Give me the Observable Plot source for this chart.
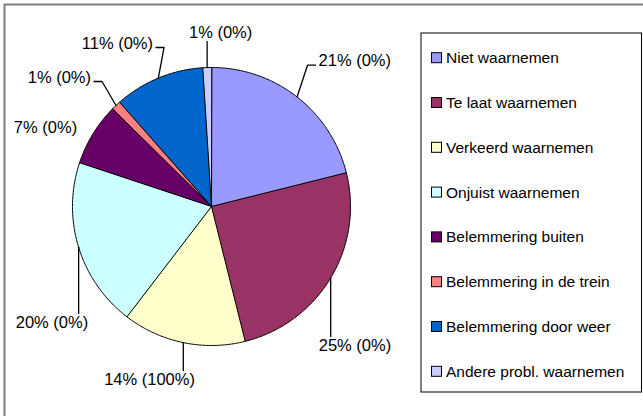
<!DOCTYPE html>
<html><head><meta charset="utf-8">
<script src="https://cdn.jsdelivr.net/npm/d3@7"></script>
<script src="https://cdn.jsdelivr.net/npm/@observablehq/plot@0.6"></script>
<style>body{margin:0;background:#fff}svg{display:block}</style>
</head><body><div id="chart"></div>
<script>
// ---- data ----
const categories = ["Niet waarnemen","Te laat waarnemen","Verkeerd waarnemen","Onjuist waarnemen","Belemmering buiten","Belemmering in de trein","Belemmering door weer","Andere probl. waarnemen"];
const shares = [21.1, 25.0, 14.3, 19.7, 7.3, 1.1, 10.5, 1.0];
const secondShares = [0, 0, 100, 0, 0, 0, 0, 0];
const colors = ["#9999FF","#993366","#FFFFCC","#CCFFFF","#660066","#FF8080","#0066CC","#CCCCFF"];
// label layout (polar: degrees clockwise from top, distance as multiple of radius)
const labelAngle = [44.6, 134.1, 199.7, 234, 295.4, 310.3, 330, 3];
const labelDist = [1.468, 1.437, 1.322, 1.419, 1.322, 1.435, 1.354, 1.253];

// ---- layout ----
const W = 643, H = 416;
const cx = 211, cy = 206, R = 139;
const FONT = "Liberation Sans, Arial, sans-serif";
const labelSize = 16.5, legendSize = 15.5;

const arcs = d3.pie().sort(null).value(d => d)(shares);
const pt = (a, r) => [cx + r * Math.sin(a), cy - r * Math.cos(a)];

const sliceMarks = arcs.map((a, i) => {
  const pts = [{x: cx, y: cy}];
  const n = Math.max(2, Math.ceil((a.endAngle - a.startAngle) / 0.01));
  for (let j = 0; j <= n; j++) {
    const t = a.startAngle + (a.endAngle - a.startAngle) * j / n;
    const [x, y] = pt(t, R);
    pts.push({x, y});
  }
  return Plot.line(pts, {x: "x", y: "y", fill: colors[i], stroke: "#000", strokeWidth: 1, curve: "linear-closed", strokeLinejoin: "round"});
});

// measure text
const ctx = document.createElement("canvas").getContext("2d");
ctx.font = `${labelSize}px ${FONT}`;

const labels = arcs.map((a, i) => {
  const ang = labelAngle[i] * Math.PI / 180;
  const [lx, ly] = pt(ang, labelDist[i] * R);
  const text = `${Math.round(shares[i])}% (${secondShares[i]}%)`;
  const hw = ctx.measureText(text).width / 2, hh = 7;
  const mid = (a.startAngle + a.endAngle) / 2;
  const [px, py] = pt(mid, R);
  let leader = null;
  const ddx = Math.max(lx - hw - px, 0, px - (lx + hw));
  const ddy = Math.max(ly - hh - py, 0, py - (ly + hh));
  if (Math.hypot(ddx, ddy) > 18) {
    if (px >= lx - hw - 4 && px <= lx + hw + 4) {
      const ey = py > ly ? ly + hh + 2 : ly - hh - 2;
      leader = [[px, py], [px, ey]];
    } else {
      const side = px > lx ? 1 : -1;
      const ex = lx + side * (hw + 3);
      const ey = ly + 4;
      leader = [[px, py], [ex + side * 8, ey], [ex, ey]];
    }
  }
  return {i, lx, ly, text, leader};
});
const leaderPts = labels.filter(d => d.leader).flatMap(d => d.leader.map(([x, y]) => ({k: d.i, x, y})));

// legend
const legX1 = 421, legX2 = 641.5, legY1 = 33, legY2 = 392;
const legY0 = 57.7, legStep = 44.8;
const legend = categories.map((c, i) => ({c, i, y: legY0 + i * legStep, color: colors[i]}));

const chart = Plot.plot({
  width: W, height: H,
  margin: 0,
  style: {fontFamily: FONT, background: "#fff", overflow: "visible"},
  x: {domain: [0, W], range: [0, W], axis: null},
  y: {domain: [0, H], range: [0, H], axis: null},
  color: {type: "identity"},
  marks: [
    Plot.ruleX([4], {y1: 4, y2: H, stroke: "#7f7f7f", strokeWidth: 2}),
    Plot.ruleY([4], {x1: 4, x2: W, stroke: "#7f7f7f", strokeWidth: 2}),
    ...sliceMarks,
    Plot.line(leaderPts, {x: "x", y: "y", z: "k", stroke: "#000", strokeWidth: 1.3}),
    Plot.text(labels, {x: "lx", y: "ly", text: "text", fontSize: labelSize, fill: "#000", textAnchor: "middle", lineAnchor: "middle"}),
    Plot.rect([0], {x1: legX1, x2: legX2, y1: legY1, y2: legY2, fill: "none", stroke: "#000", strokeWidth: 1}),
    Plot.rect(legend, {x1: 431.5, x2: 441.5, y1: d => d.y - 5, y2: d => d.y + 5, fill: "color", stroke: "#000", strokeWidth: 1}),
    Plot.text(legend, {x: 445.5, y: "y", text: "c", fontSize: legendSize, fill: "#000", textAnchor: "start", lineAnchor: "middle"})
  ]
});
document.getElementById("chart").appendChild(chart);
</script>
</body></html>
